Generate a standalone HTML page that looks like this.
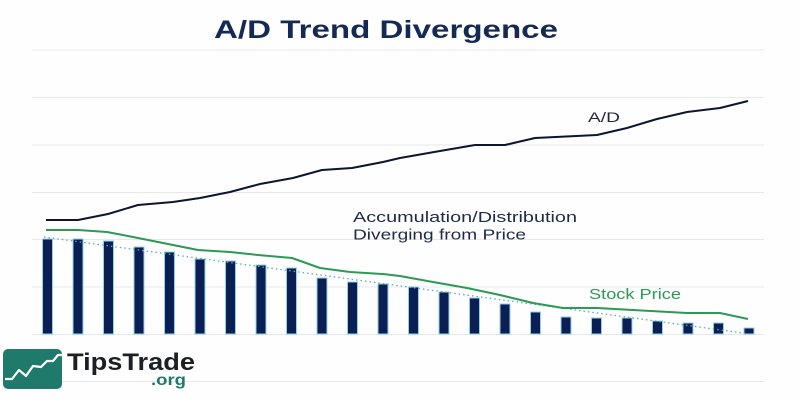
<!DOCTYPE html>
<html><head><meta charset="utf-8"><style>
html,body{margin:0;padding:0;background:#fff;}
svg{display:block;}
</style></head><body>
<svg width="800" height="400" viewBox="0 0 800 400" xmlns="http://www.w3.org/2000/svg">
<rect width="800" height="400" fill="#fefefe"/>
<g stroke="#e6e8ea" stroke-width="1">
<line x1="32" y1="50" x2="764" y2="50"/>
<line x1="32" y1="97.5" x2="764" y2="97.5"/>
<line x1="32" y1="145" x2="764" y2="145"/>
<line x1="32" y1="192.5" x2="764" y2="192.5"/>
<line x1="32" y1="239.5" x2="764" y2="239.5"/>
<line x1="32" y1="287" x2="764" y2="287"/>
<line x1="32" y1="334.5" x2="764" y2="334.5"/>
<line x1="32" y1="381.5" x2="764" y2="381.5"/>
</g>
<text x="386" y="38" text-anchor="middle" font-family="Liberation Sans, sans-serif" font-size="25" font-weight="bold" fill="#142a55" textLength="344" lengthAdjust="spacingAndGlyphs">A/D Trend Divergence</text>
<g fill="#0b1f55" stroke="#8fd3e3" stroke-width="1">
<rect x="42.5" y="239" width="10" height="95"/>
<rect x="73" y="239" width="10" height="95"/>
<rect x="103.5" y="241" width="10" height="93"/>
<rect x="134" y="247" width="10" height="87"/>
<rect x="164.5" y="252" width="10" height="82"/>
<rect x="195" y="259" width="10" height="75"/>
<rect x="225.5" y="261" width="10" height="73"/>
<rect x="256" y="265" width="10" height="69"/>
<rect x="286.5" y="268" width="10" height="66"/>
<rect x="317" y="278" width="10" height="56"/>
<rect x="347.5" y="282" width="10" height="52"/>
<rect x="378" y="284" width="10" height="50"/>
<rect x="408.5" y="287" width="10" height="47"/>
<rect x="439" y="292" width="10" height="42"/>
<rect x="469.5" y="298" width="10" height="36"/>
<rect x="500" y="304" width="10" height="30"/>
<rect x="530.5" y="312" width="10" height="22"/>
<rect x="561" y="317" width="10" height="17"/>
<rect x="591.5" y="318" width="10" height="16"/>
<rect x="622" y="318" width="10" height="16"/>
<rect x="652.5" y="321" width="10" height="13"/>
<rect x="683" y="323" width="10" height="11"/>
<rect x="713.5" y="323" width="10" height="11"/>
<rect x="744" y="328" width="10" height="6"/>
</g>
<line x1="44" y1="237" x2="750" y2="334" stroke="#5fa8b8" stroke-width="1.3" stroke-dasharray="1.5,3"/>
<polyline fill="none" stroke="#2a9a55" stroke-width="2" stroke-linejoin="round" points="46,230 78,230 107,232 133,237 163,243 198,250 230,252 258,255 292,258 320,268 350,272 383,274 400,276 433,282 467,288 500,295 533,303 563,308 597,308 633,310 687,313 720,313 748,319"/>
<polyline fill="none" stroke="#0d1530" stroke-width="2" stroke-linejoin="round" points="46,220 78,220 108,214 138,205 173,202 200,198 230,192 260,184 293,178 322,170 352,168 383,162 400,158 440,151 475,145 505,145 535,138 597,135 627,128 657,119 687,112 720,108 748,101"/>
<text x="588" y="122" font-family="Liberation Sans, sans-serif" font-size="14" fill="#1e2840" textLength="32" lengthAdjust="spacingAndGlyphs">A/D</text>
<text x="353" y="222" font-family="Liberation Sans, sans-serif" font-size="15" fill="#1e2a48" textLength="224" lengthAdjust="spacingAndGlyphs">Accumulation/Distribution</text>
<text x="353" y="239.5" font-family="Liberation Sans, sans-serif" font-size="15" fill="#1e2a48" textLength="173" lengthAdjust="spacingAndGlyphs">Diverging from Price</text>
<text x="589" y="299" font-family="Liberation Sans, sans-serif" font-size="15" fill="#2a9a55" textLength="92" lengthAdjust="spacingAndGlyphs">Stock Price</text>
<rect x="3" y="349" width="59" height="40" rx="5" fill="#1f7a6b"/>
<polyline fill="none" stroke="#fff" stroke-width="2.2" stroke-linejoin="round" points="5,379 12,379 19,370 26,376 33,366 41,367 47,361 53,361 58,355 62,355"/>
<text x="67" y="370" font-family="Liberation Sans, sans-serif" font-size="24" font-weight="bold" fill="#1c2024" textLength="128" lengthAdjust="spacingAndGlyphs">TipsTrade</text>
<text x="151" y="385" font-family="Liberation Sans, sans-serif" font-size="16" font-weight="bold" fill="#1f7a6b" textLength="35" lengthAdjust="spacingAndGlyphs">.org</text>
</svg>
</body></html>
